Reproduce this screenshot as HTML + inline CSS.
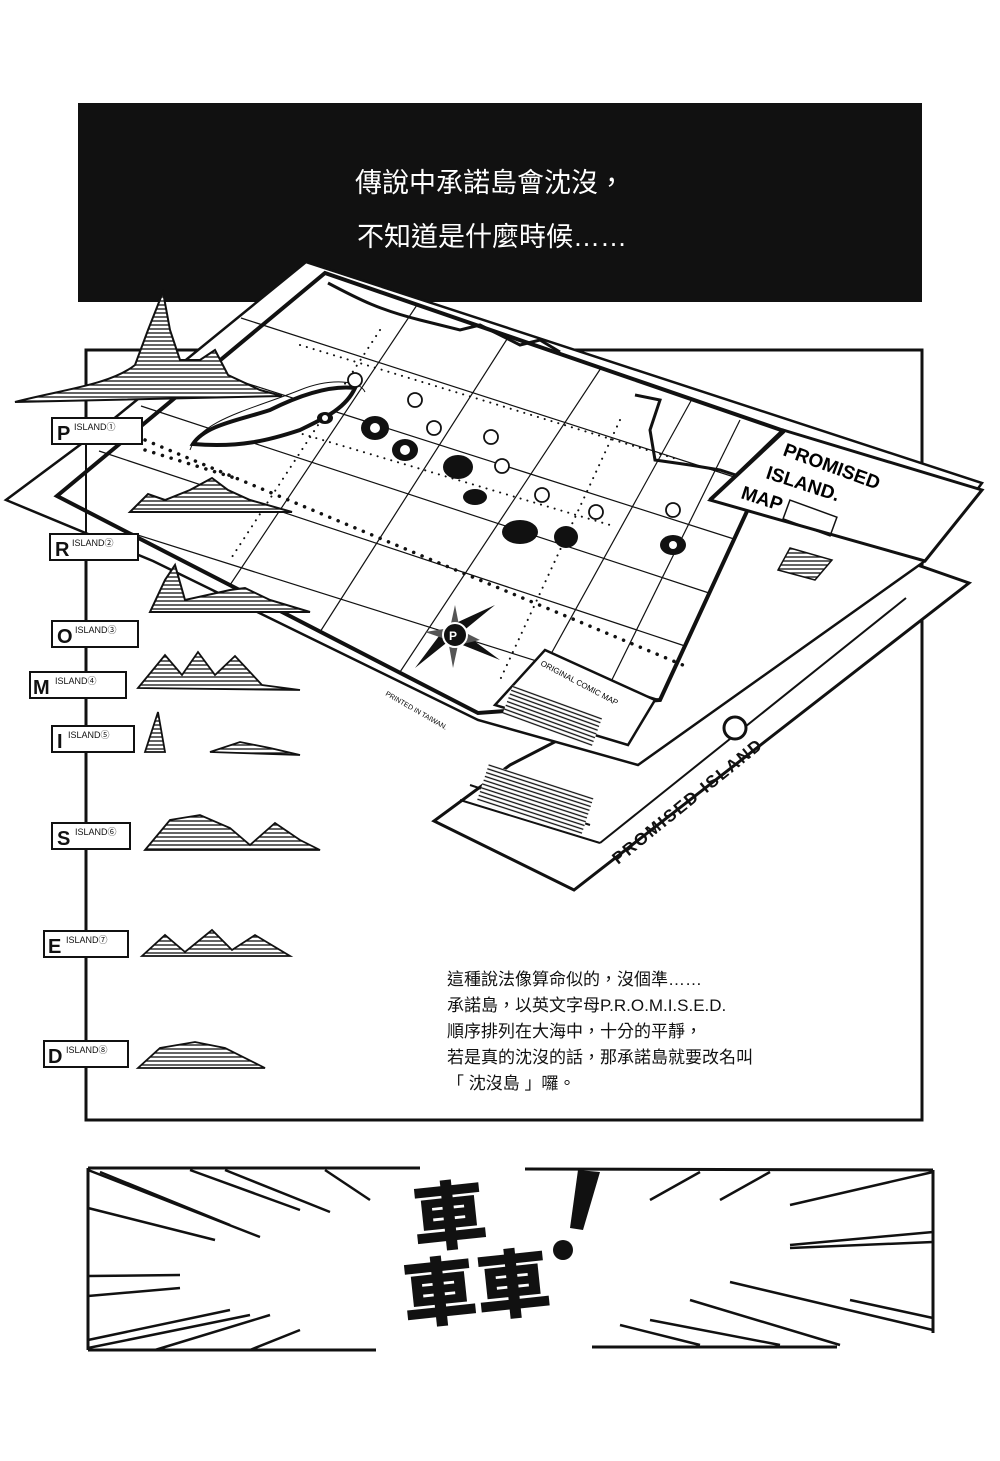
<!DOCTYPE html>
<html><head><meta charset="utf-8"><style>
html,body{margin:0;padding:0;background:#fff;}
svg{display:block}
.cjk{font-family:"Liberation Sans","Noto Sans CJK TC","Noto Sans CJK SC",sans-serif;}
</style></head><body>
<svg width="1000" height="1461" viewBox="0 0 1000 1461" xmlns="http://www.w3.org/2000/svg">
<defs>
<pattern id="h" width="4" height="4" patternUnits="userSpaceOnUse"><rect width="4" height="4" fill="#fff"/><line x1="0" y1="1" x2="4" y2="1" stroke="#111" stroke-width="1.3"/></pattern>
</defs>
<rect width="1000" height="1461" fill="#fff"/>
<rect x="78" y="103" width="844" height="199" fill="#111"/>
<text x="355" y="192" class="cjk" font-size="27" fill="#fff">傳說中承諾島會沈沒，</text>
<text x="357" y="246" class="cjk" font-size="27" fill="#fff">不知道是什麼時候……</text>
<rect x="86" y="350" width="836" height="770" fill="none" stroke="#111" stroke-width="3"/>
<!-- back sheet -->
<polygon points="510,765 906,561 969,583 574,890 434,821" fill="#fff" stroke="#111" stroke-width="3"/>
<g stroke="#111" stroke-width="2" fill="none">
<line x1="600" y1="843" x2="906" y2="598"/>
<line x1="460" y1="800" x2="600" y2="843"/>
<line x1="470" y1="785" x2="590" y2="825"/>
</g>
<rect x="480" y="780" width="110" height="40" fill="url(#h)" transform="rotate(18 535 800)"/>
<text x="618" y="865" transform="rotate(-39 618 865)" class="cjk" font-size="17" font-weight="bold" fill="#111" letter-spacing="2">PROMISED ISLAND</text>
<circle cx="735" cy="728" r="11" fill="#fff" stroke="#111" stroke-width="3"/>
<!-- main map sheet -->
<polygon points="306,262 982,483 925,561 638,765 478,720 153,561 6,500 100,430" fill="#fff" stroke="#111" stroke-width="2.5"/>
<polygon points="325,273 784,431 660,700 478,713 57,496" fill="none" stroke="#111" stroke-width="4"/>
<g stroke="#111" stroke-width="1.2" fill="none">
<line x1="241" y1="318" x2="759" y2="485"/>
<line x1="183" y1="363" x2="734" y2="539"/>
<line x1="141" y1="406" x2="709" y2="593"/>
<line x1="99" y1="451" x2="685" y2="646"/>
<line x1="125" y1="531" x2="660" y2="700"/>
<line x1="417" y1="305" x2="230" y2="585"/>
<line x1="509" y1="336" x2="320" y2="632"/>
<line x1="601" y1="368" x2="400" y2="672"/>
<line x1="692" y1="399" x2="520" y2="710"/>
<line x1="740" y1="420" x2="600" y2="704"/>
</g>
<g stroke="#111" stroke-width="3.5" stroke-linecap="round" stroke-dasharray="0.1 9" fill="none">
<line x1="145" y1="440" x2="690" y2="668"/>
<line x1="145" y1="450" x2="235" y2="478"/>
</g>
<g stroke="#111" stroke-width="2" stroke-linecap="round" stroke-dasharray="0.1 7" fill="none">
<line x1="300" y1="345" x2="680" y2="460"/>
<line x1="255" y1="420" x2="610" y2="525"/>
<line x1="380" y1="330" x2="230" y2="560"/>
<line x1="620" y1="420" x2="500" y2="680"/>
</g>
<path d="M328,283 C360,300 380,310 420,320 L460,330 L480,325 L520,345 L540,340 L560,352" fill="none" stroke="#111" stroke-width="3"/>
<path d="M635,395 L660,400 L650,430 L655,460 L690,465 L720,470 L745,478" fill="none" stroke="#111" stroke-width="3"/>
<path d="M193,444 C205,425 240,420 270,410 C300,395 330,385 355,388 C345,410 320,420 300,430 C270,440 240,448 193,444Z" fill="#fff" stroke="#111" stroke-width="4"/>
<path d="M190,450 C200,420 250,410 300,390 C330,378 360,380 365,392" fill="none" stroke="#111" stroke-width="1"/>
<g fill="#111">
<ellipse cx="325" cy="418" rx="8" ry="6"/>
<ellipse cx="375" cy="428" rx="14" ry="12"/>
<ellipse cx="405" cy="450" rx="13" ry="11"/>
<ellipse cx="458" cy="467" rx="15" ry="12"/>
<ellipse cx="475" cy="497" rx="12" ry="8"/>
<ellipse cx="520" cy="532" rx="18" ry="12"/>
<ellipse cx="566" cy="537" rx="12" ry="11"/>
<ellipse cx="673" cy="545" rx="13" ry="10"/>
</g>
<g fill="#fff">
<circle cx="325" cy="418" r="3"/><circle cx="375" cy="428" r="5"/><circle cx="405" cy="450" r="5"/>
<circle cx="673" cy="545" r="4"/>
</g>
<g stroke="#111" stroke-width="1.8" fill="#fff">
<circle cx="355" cy="380" r="7"/><circle cx="415" cy="400" r="7"/><circle cx="434" cy="428" r="7"/>
<circle cx="491" cy="437" r="7"/><circle cx="502" cy="466" r="7"/><circle cx="542" cy="495" r="7"/>
<circle cx="596" cy="512" r="7"/><circle cx="673" cy="510" r="7"/>
</g>
<polygon points="783,430 982,490 925,561 710,500" fill="#fff" stroke="#111" stroke-width="3"/>
<line x1="784" y1="431" x2="710" y2="500" stroke="#111" stroke-width="4"/>
<text x="782" y="455" transform="rotate(20 782 455)" class="cjk" font-size="19" font-weight="bold">PROMISED</text>
<text x="765" y="478" transform="rotate(18 765 478)" class="cjk" font-size="19" font-weight="bold">ISLAND.</text>
<text x="740" y="498" transform="rotate(18 740 498)" class="cjk" font-size="19" font-weight="bold">MAP</text>
<rect x="785" y="508" width="50" height="20" fill="none" stroke="#111" stroke-width="1.5" transform="rotate(20 810 518)"/>
<polygon points="790,548 832,560 815,580 778,570" fill="url(#h)" stroke="#111" stroke-width="1.5"/>
<polygon points="545,650 655,700 628,745 495,705" fill="#fff" stroke="#111" stroke-width="2.5"/>
<rect x="505" y="700" width="95" height="30" fill="url(#h)" transform="rotate(20 550 715)"/>
<text x="540" y="665" transform="rotate(28 540 665)" class="cjk" font-size="8">ORIGINAL COMIC MAP</text>
<text x="385" y="695" transform="rotate(30 385 695)" class="cjk" font-size="7">PRINTED IN TAIWAN.</text>
<polygon points="495,605 462,632 500,660 450,640 415,668 445,628" fill="#111"/>
<polygon points="455,605 460,630 480,640 458,645 453,668 448,640 425,632 450,628" fill="#555"/>
<circle cx="455" cy="635" r="12" fill="#111" stroke="#fff" stroke-width="2"/>
<text x="449" y="640" class="cjk" font-size="12" font-weight="bold" fill="#fff">P</text>
<path d="M15,402 C60,390 110,385 135,365 L148,330 L163,292 L170,330 L180,360 L200,360 L215,350 L228,375 L260,390 L282,396 L15,402Z" fill="url(#h)" stroke="#111" stroke-width="2"/>
<path d="M130,512 L148,494 L165,500 L190,490 L212,478 L228,490 L250,500 L292,512Z" fill="url(#h)" stroke="#111" stroke-width="2"/>
<path d="M150,612 L165,580 L175,565 L185,600 L230,590 L245,588 L270,600 L310,612Z" fill="url(#h)" stroke="#111" stroke-width="2"/>
<g stroke="#111" stroke-width="2" fill="#fff">
<line x1="86" y1="444" x2="86" y2="1041"/>
<rect x="52" y="418" width="90" height="26"/>
<rect x="50" y="534" width="88" height="26"/>
<rect x="52" y="621" width="86" height="26"/>
<rect x="30" y="672" width="96" height="26"/>
<rect x="52" y="726" width="82" height="26"/>
<rect x="52" y="823" width="78" height="26"/>
<rect x="44" y="931" width="84" height="26"/>
<rect x="44" y="1041" width="84" height="26"/>
</g>
<g class="cjk" fill="#111">
<text x="57" y="440" font-size="20" font-weight="bold">P</text><text x="74" y="430" font-size="9">ISLAND①</text>
<text x="55" y="556" font-size="20" font-weight="bold">R</text><text x="72" y="546" font-size="9">ISLAND②</text>
<text x="57" y="643" font-size="20" font-weight="bold">O</text><text x="75" y="633" font-size="9">ISLAND③</text>
<text x="33" y="694" font-size="20" font-weight="bold">M</text><text x="55" y="684" font-size="9">ISLAND④</text>
<text x="57" y="748" font-size="20" font-weight="bold">I</text><text x="68" y="738" font-size="9">ISLAND⑤</text>
<text x="57" y="845" font-size="20" font-weight="bold">S</text><text x="75" y="835" font-size="9">ISLAND⑥</text>
<text x="48" y="953" font-size="20" font-weight="bold">E</text><text x="66" y="943" font-size="9">ISLAND⑦</text>
<text x="48" y="1063" font-size="20" font-weight="bold">D</text><text x="66" y="1053" font-size="9">ISLAND⑧</text>
</g>
<g fill="url(#h)" stroke="#111" stroke-width="1.8">
<path d="M138,688 L165,655 L182,675 L198,652 L215,675 L235,656 L262,685 L300,690Z"/>
<path d="M145,752 L158,712 L165,752Z"/>
<path d="M210,752 L240,742 L270,748 L300,755Z"/>
<path d="M145,850 L170,820 L200,815 L230,828 L250,845 L275,823 L300,840 L320,850Z"/>
<path d="M142,956 L165,935 L185,952 L212,930 L232,950 L255,935 L290,956Z"/>
<path d="M138,1068 L160,1048 L195,1042 L225,1048 L265,1068Z"/>
</g>
<g class="cjk" font-size="17" fill="#111">
<text x="447" y="985">這種說法像算命似的，沒個準……</text>
<text x="447" y="1011">承諾島，以英文字母P.R.O.M.I.S.E.D.</text>
<text x="447" y="1037">順序排列在大海中，十分的平靜，</text>
<text x="447" y="1063">若是真的沈沒的話，那承諾島就要改名叫</text>
<text x="447" y="1089">「 沈沒島 」囉。</text>
</g>
<g stroke="#111" stroke-width="3" fill="none">
<line x1="88" y1="1168" x2="420" y2="1168"/>
<line x1="525" y1="1169" x2="933" y2="1170"/>
<line x1="88" y1="1168" x2="88" y2="1350"/>
<line x1="933" y1="1170" x2="933" y2="1333"/>
<line x1="88" y1="1350" x2="376" y2="1350"/>
<line x1="592" y1="1347" x2="837" y2="1347"/>
</g>
<g stroke="#111" stroke-width="2.5">
<line x1="88" y1="1170" x2="260" y2="1237"/><line x1="100" y1="1172" x2="230" y2="1225"/>
<line x1="190" y1="1170" x2="300" y2="1210"/><line x1="225" y1="1170" x2="330" y2="1212"/>
<line x1="88" y1="1208" x2="215" y2="1240"/>
<line x1="325" y1="1170" x2="370" y2="1200"/>
<line x1="88" y1="1276" x2="180" y2="1275"/><line x1="88" y1="1296" x2="180" y2="1288"/>
<line x1="88" y1="1340" x2="230" y2="1310"/><line x1="88" y1="1348" x2="250" y2="1315"/>
<line x1="155" y1="1350" x2="270" y2="1315"/><line x1="250" y1="1350" x2="300" y2="1330"/>
<line x1="933" y1="1172" x2="790" y2="1205"/><line x1="770" y1="1172" x2="720" y2="1200"/>
<line x1="700" y1="1172" x2="650" y2="1200"/>
<line x1="933" y1="1232" x2="790" y2="1245"/><line x1="933" y1="1242" x2="790" y2="1248"/>
<line x1="933" y1="1330" x2="730" y2="1282"/><line x1="933" y1="1318" x2="850" y2="1300"/>
<line x1="840" y1="1345" x2="690" y2="1300"/><line x1="780" y1="1345" x2="650" y2="1320"/>
<line x1="700" y1="1345" x2="620" y2="1325"/>
</g>
<text x="415" y="1240" class="cjk" font-size="74" font-weight="900" fill="#111" transform="rotate(-6 480 1240)">車</text>
<text x="405" y="1315" class="cjk" font-size="74" font-weight="900" fill="#111" transform="rotate(-6 480 1315)">車車</text>
<path d="M578,1170 L600,1172 L583,1230 L570,1228Z" fill="#111"/>
<circle cx="563" cy="1250" r="10" fill="#111"/>
</svg>
</body></html>
